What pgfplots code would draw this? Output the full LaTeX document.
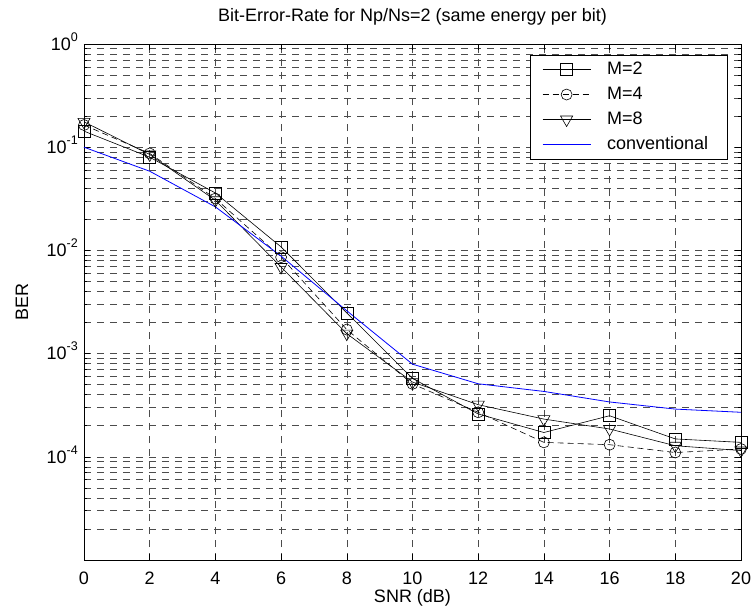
\documentclass[border=0pt]{standalone}
\usepackage{fontspec}
\setmainfont{Liberation Sans}
\usepackage{pgfplots}
\pgfplotsset{compat=1.18}
\newcommand{\tl}[1]{10\raisebox{0.5em}[0pt][0pt]{\fontsize{12.5bp}{12.5bp}\selectfont #1}}
\begin{document}
\fontsize{18bp}{21.6bp}\selectfont
\begin{tikzpicture}
\begin{axis}[
 name=ax, at={(0,0)}, anchor=south west,
 scale only axis, width=657bp, height=516bp,
 xmin=0, xmax=20, ymin=1e-5, ymax=1,
 ymode=log, clip=false,
 /pgf/number format/assume math mode=true,
 xtick={0,2,...,20},
 ytick={1e-4,1e-3,1e-2,1e-1,1},
 yticklabels={\tl{-4},\tl{-3},\tl{-2},\tl{-1},\tl{0}},
 minor ytick={2e-5,3e-5,4e-5,5e-5,6e-5,7e-5,8e-5,9e-5,
   2e-4,3e-4,4e-4,5e-4,6e-4,7e-4,8e-4,9e-4,
   2e-3,3e-3,4e-3,5e-3,6e-3,7e-3,8e-3,9e-3,
   2e-2,3e-2,4e-2,5e-2,6e-2,7e-2,8e-2,9e-2,
   0.2,0.3,0.4,0.5,0.6,0.7,0.8,0.9},
 grid=both,
 major grid style={dash pattern=on 7bp off 6bp, black!70, line width=0.6bp},
 minor grid style={dash pattern=on 7bp off 6bp, black!70, line width=0.6bp},
 axis line style={line width=0.8bp},
 tick style={black, line width=0.6bp},
 tick align=inside, major tick length=6bp, minor tick length=3.5bp,
 xticklabel style={yshift=-6bp},
 title={Bit-Error-Rate for Np/Ns=2 (same energy per bit)},
 title style={at={(0.5,1.0329)}, anchor=base},
 xlabel={SNR (dB)},
 xlabel style={at={(0.5,-0.0833)}, anchor=base},
 ylabel={BER},
 ylabel style={at={(-0.0852,0.5)}, anchor=base},
 legend cell align=left,
 legend style={at={(0.979,0.979)}, anchor=north east, draw=black, fill=white,
   inner xsep=12bp, inner ysep=6bp, row sep=8bp,
   nodes={inner sep=0pt, text height=13bp, text depth=4bp, text width=108bp, align=left},
   /tikz/every odd column/.append style={column sep=16bp}},
 legend image code/.code={\draw[mark repeat=2,mark phase=2,#1] plot coordinates {(0bp,0bp) (24bp,0bp) (48bp,0bp)};},
]
\addplot[black, line width=0.6bp, mark=square, mark size=6bp, mark options={solid}] coordinates {
 (0,0.143) (2,0.080) (4,0.036) (6,0.0108) (8,0.00248) (10,0.000575) (12,0.00026) (14,0.000172) (16,0.00025) (18,0.000149) (20,0.000138)};
\addlegendentry{M=2}
\addplot[black, line width=0.6bp, dash pattern=on 6bp off 4bp, mark=o, mark size=5.5bp, mark options={solid}] coordinates {
 (0,0.164) (2,0.087) (4,0.0318) (6,0.0086) (8,0.00171) (10,0.000508) (12,0.00027) (14,0.000138) (16,0.000131) (18,0.00011) (20,0.000119)};
\addlegendentry{M=4}
\addplot[black, line width=0.6bp, mark=triangle, mark size=7bp, mark options={solid, rotate=180}] coordinates {
 (0,0.176) (2,0.085) (4,0.0306) (6,0.0069) (8,0.00156) (10,0.00053) (12,0.00032) (14,0.000232) (16,0.000186) (18,0.000128) (20,0.000115)};
\addlegendentry{M=8}
\addplot[blue, line width=0.8bp, mark=none] coordinates {
 (0,0.1) (2,0.0585) (4,0.0264) (6,0.0088) (8,0.0026) (10,0.00079) (12,0.00051) (14,0.00043) (16,0.00034) (18,0.00029) (20,0.00027)};
\addlegendentry{conventional}
\end{axis}
\pgfresetboundingbox
\path[use as bounding box] ([shift={(-84bp,-56bp)}]ax.south west) rectangle ([shift={(12bp,44bp)}]ax.north east);
\end{tikzpicture}
\end{document}
